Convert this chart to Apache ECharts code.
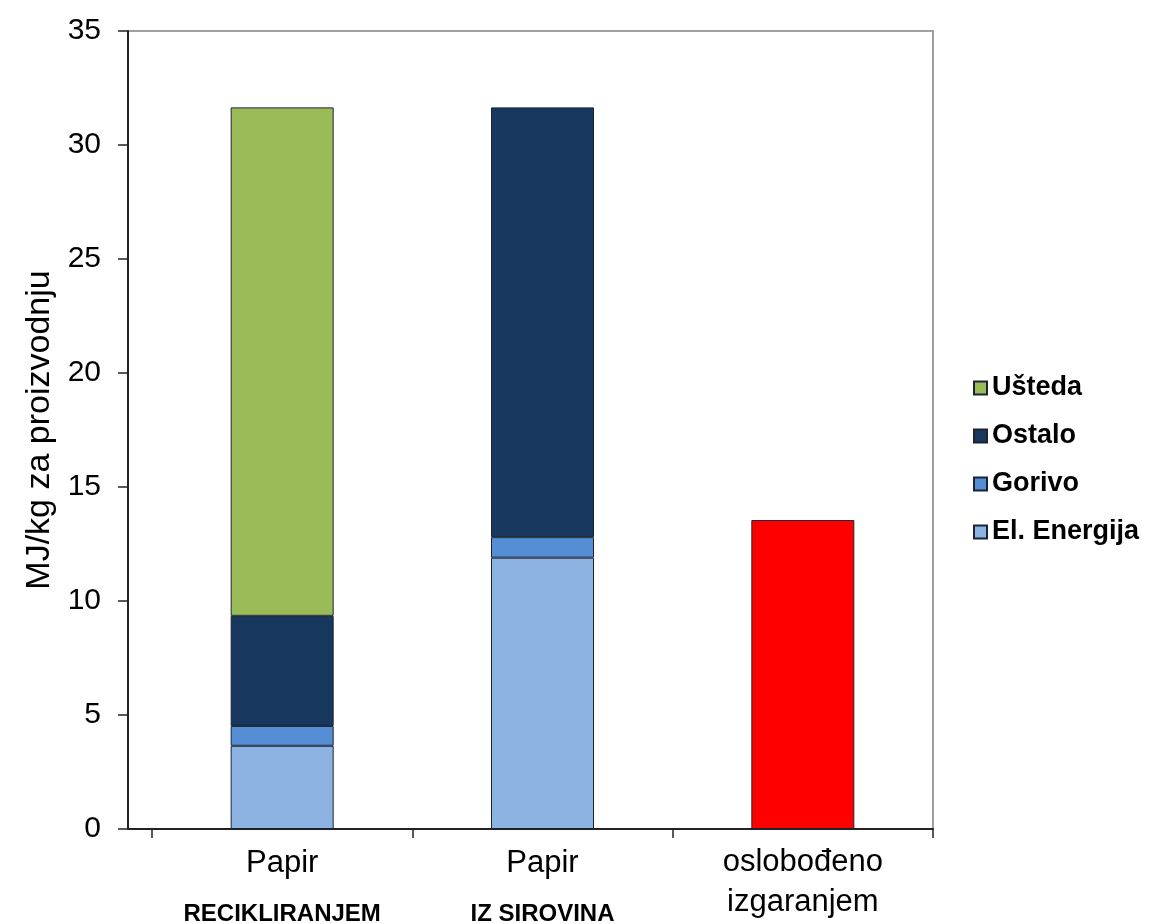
<!DOCTYPE html>
<html>
<head>
<meta charset="utf-8">
<script src="https://cdn.jsdelivr.net/npm/echarts@6/dist/echarts.min.js"></script>
<style>
  html, body { margin: 0; padding: 0; background: #fff; }
</style>
</head>
<body>
<!-- chart container -->
<div id="energyChart" style="width: 1152px;height: 924px;"></div>
<script>
var categories = ['Papir', 'Papir', 'oslobođeno']
var subLabels = ['RECIKLIRANJEM', 'IZ SIROVINA', 'izgaranjem']
var elEnergija = [3.65, 11.9, null]
var gorivo = [0.87, 0.9, null]
var ostalo = [4.83, 18.85, null]
var usteda = [22.3, null, null]
var oslobodjeno = [null, null, 13.55]
var yTicks = { min: 0, max: 35, step: 5 }

// layout: the category band starts a bit right of the value axis, like the original
var gridLeft = 152
var gridRight = 219
var gridTop = 31
var gridBottom = 95
var axisOffset = 24

var myChart = echarts.init(document.getElementById('energyChart'))
var border = { borderColor: '#1b2433', borderWidth: 1 }

function barSeries (name, data, color) {
  return {
    name: name,
    type: 'bar',
    stack: 'total',
    barWidth: 103,
    data: data,
    itemStyle: Object.assign({ color: color }, border)
  }
}

var plotBottom = 924 - gridBottom
var plotRight = 1152 - gridRight

var option = {
  animation: false,
  textStyle: { fontFamily: 'Liberation Sans, Arial, sans-serif' },
  grid: {
    left: gridLeft,
    right: gridRight,
    top: gridTop,
    bottom: gridBottom,
    outerBoundsMode: 'none'
  },
  graphic: [
    {
      type: 'polyline',
      z: 0,
      shape: { points: [[gridLeft - axisOffset, gridTop], [plotRight, gridTop], [plotRight, plotBottom]] },
      style: { stroke: '#a0a0a0', lineWidth: 2, fill: null }
    },
    {
      type: 'line',
      z: 5,
      shape: { x1: gridLeft - axisOffset, y1: plotBottom, x2: gridLeft, y2: plotBottom },
      style: { stroke: '#222', lineWidth: 2 }
    }
  ],
  legend: {
    orient: 'vertical',
    left: 968,
    top: 368,
    itemGap: 18,
    itemWidth: 13,
    itemHeight: 13,
    icon: 'rect',
    data: ['Ušteda', 'Ostalo', 'Gorivo', 'El. Energija'],
    textStyle: { fontSize: 27, lineHeight: 30, fontWeight: 'bold', color: '#000', padding: [0, 0, 0, 0] }
  },
  xAxis: {
    type: 'category',
    data: categories,
    axisLine: { lineStyle: { color: '#222', width: 2 } },
    axisTick: { show: true, length: 9, lineStyle: { color: '#222', width: 1.5 } },
    axisLabel: {
      interval: 0,
      margin: 12,
      color: '#000',
      formatter: function (v, i) {
        if (i === 2) return '{big|' + v + '}\n{big|' + subLabels[i] + '}'
        return '{main|' + v + '}\n{sub|' + subLabels[i] + '}'
      },
      rich: {
        main: { fontSize: 31, color: '#000', lineHeight: 44 },
        sub: { fontSize: 24, fontWeight: 'bold', color: '#000', lineHeight: 58 },
        big: { fontSize: 31, color: '#000', lineHeight: 40, padding: [3, 0, 0, 0] }
      }
    }
  },
  yAxis: {
    type: 'value',
    offset: axisOffset,
    min: yTicks.min,
    max: yTicks.max,
    interval: yTicks.step,
    name: 'MJ/kg za proizvodnju',
    nameLocation: 'middle',
    nameGap: 56,
    nameTextStyle: { fontSize: 34, color: '#000' },
    splitLine: { show: false },
    axisLine: { show: true, lineStyle: { color: '#222', width: 2 } },
    axisTick: { show: true, length: 10, lineStyle: { color: '#222', width: 1.5 } },
    axisLabel: { fontSize: 30, color: '#000', margin: 27 }
  },
  series: [
    barSeries('El. Energija', elEnergija, '#8db3e2'),
    barSeries('Gorivo', gorivo, '#558ed5'),
    barSeries('Ostalo', ostalo, '#17375e'),
    barSeries('Ušteda', usteda, '#9bbb59'),
    barSeries('oslobođeno izgaranjem', oslobodjeno, '#ff0000')
  ]
}
myChart.setOption(option)
</script>
</body>
</html>
